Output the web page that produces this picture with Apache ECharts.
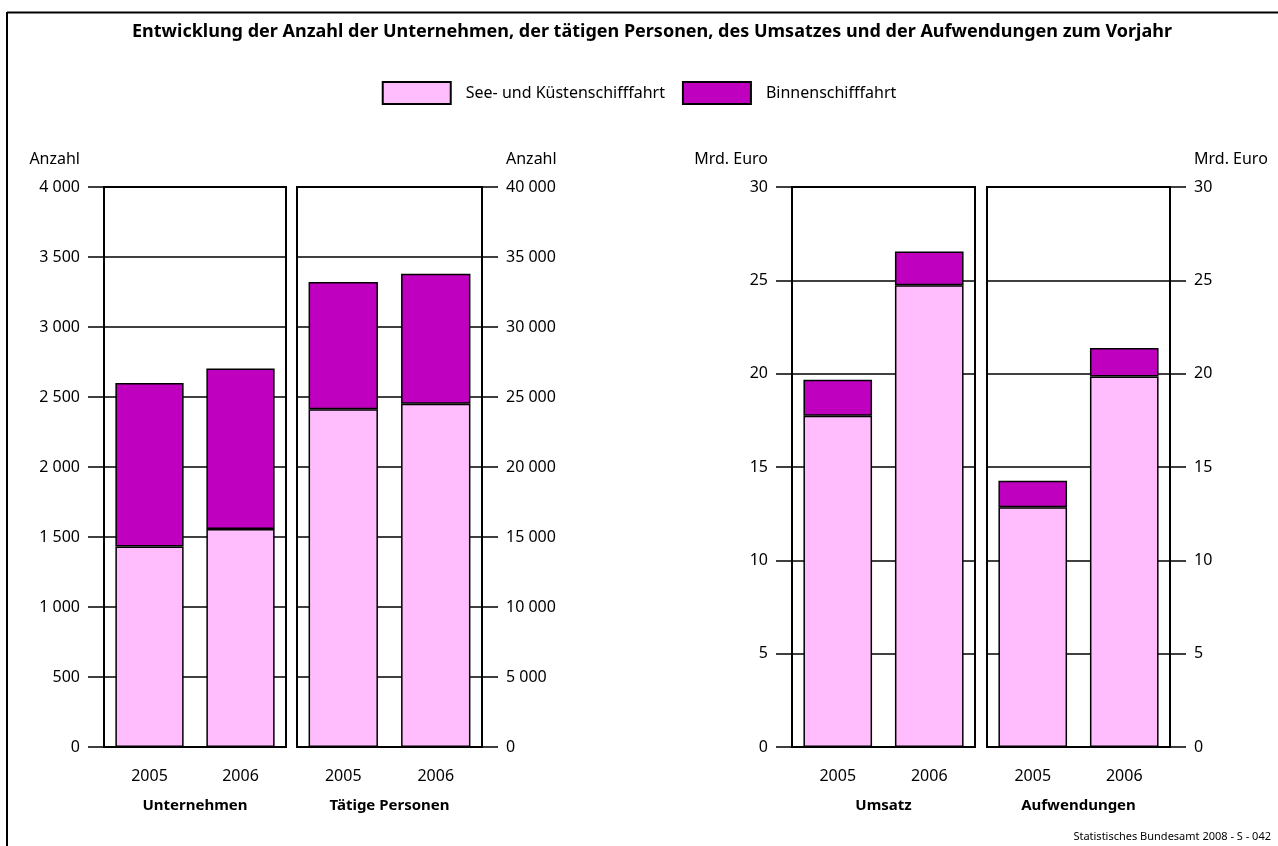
<!DOCTYPE html>
<html>
<head>
<meta charset="utf-8">
<script src="https://cdn.jsdelivr.net/npm/echarts@6/dist/echarts.min.js"></script>
<style>
  html, body { margin: 0; padding: 0; background: #fff; }
  #main { width: 1278px; height: 846px; }
</style>
</head>
<body>
<div id="main"></div>
<script>
// data
var years = ["2005", "2006"];
var panels = ["Unternehmen", "Tätige Personen", "Umsatz", "Aufwendungen"];
var seriesNames = ["See- und Küstenschifffahrt", "Binnenschifffahrt"];

var seeUnternehmen = [1432, 1558];
var binnenUnternehmen = [1168, 1145];
var seePersonen = [24130, 24510];
var binnenPersonen = [9090, 9300];
var seeUmsatz = [17.75, 24.73];
var binnenUmsatz = [1.92, 1.82];
var seeAufwand = [12.85, 19.85];
var binnenAufwand = [1.41, 1.52];

var axisMax = [4000, 40000, 30, 30];
var axisStep = [500, 5000, 5, 5];
var axisUnit = ["Anzahl", "Anzahl", "Mrd. Euro", "Mrd. Euro"];

var chart = echarts.init(document.getElementById("main"));
var font = "Noto Sans";
var pink = "#ffbdfd";
var purple = "#bf00bf";

function fmt(v) {
  return String(v).replace(/\B(?=(\d{3})+(?!\d))/g, " ");
}

var gridPos = [
  { left: 104, width: 182 },
  { left: 297, width: 185 },
  { left: 792, width: 183 },
  { left: 987, width: 183 },
];
var sideOf = ["left", "right", "left", "right"];

var grids = [], xAxes = [], yAxes = [], series = [];
var seeData = [seeUnternehmen, seePersonen, seeUmsatz, seeAufwand];
var binnenData = [binnenUnternehmen, binnenPersonen, binnenUmsatz, binnenAufwand];

for (var i = 0; i < 4; i++) {
  grids.push({
    left: gridPos[i].left,
    width: gridPos[i].width,
    top: 187,
    height: 560,
    show: true,
    borderColor: "#000",
    borderWidth: 2,
  });
  xAxes.push({
    type: "category",
    gridIndex: i,
    data: years,
    name: panels[i],
    nameLocation: "middle",
    nameGap: 51,
    nameTextStyle: { fontFamily: font, fontWeight: "bold", fontSize: 15, color: "#000" },
    axisLine: { lineStyle: { color: "#000", width: 2 } },
    axisTick: { length: 16, lineStyle: { color: "#000", width: 2 } },
    axisLabel: { margin: 21, fontFamily: font, fontSize: 16, color: "#000" },
  });
  var isLeft = sideOf[i] === "left";
  yAxes.push({
    type: "value",
    gridIndex: i,
    position: sideOf[i],
    min: 0,
    max: axisMax[i],
    interval: axisStep[i],
    name: axisUnit[i],
    nameLocation: "end",
    nameGap: 20,
    nameTextStyle: {
      fontFamily: font,
      fontSize: 16,
      color: "#000",
      align: isLeft ? "right" : "left",
      padding: isLeft ? [0, 24, 0, 0] : [0, 0, 0, 24],
    },
    axisLine: { show: true, lineStyle: { color: "#000", width: 2 } },
    axisTick: { show: true, length: 16, lineStyle: { color: "#000", width: 1.5 } },
    axisLabel: { margin: 24, fontFamily: font, fontSize: 16, color: "#000", formatter: fmt },
    splitLine: { show: true, lineStyle: { color: "#000", width: 1.5 } },
  });
  series.push({
    name: seriesNames[0],
    type: "bar",
    xAxisIndex: i,
    yAxisIndex: i,
    stack: "s" + i,
    barWidth: "75%",
    itemStyle: { color: pink, borderColor: "#000", borderWidth: 1.5 },
    data: seeData[i],
  });
  series.push({
    name: seriesNames[1],
    type: "bar",
    xAxisIndex: i,
    yAxisIndex: i,
    stack: "s" + i,
    barWidth: "75%",
    itemStyle: { color: purple, borderColor: "#000", borderWidth: 1.5 },
    data: binnenData[i],
  });
}

chart.setOption({
  backgroundColor: "#fff",
  animation: false,
  title: {
    text: "Entwicklung der Anzahl der Unternehmen, der tätigen Personen, des Umsatzes und der Aufwendungen zum Vorjahr",
    left: 127,
    top: 18,
    textStyle: { fontFamily: font, fontWeight: "bold", fontSize: 18, color: "#000" },
  },
  legend: {
    top: 76,
    left: "center",
    itemWidth: 68,
    itemHeight: 22,
    itemGap: 17,
    icon: "rect",
    textStyle: { fontFamily: font, fontSize: 16, color: "#000", padding: [0, 0, 0, 10] },
    data: seriesNames,
  },
  grid: grids,
  xAxis: xAxes,
  yAxis: yAxes,
  series: series,
  graphic: [
    { type: "line", shape: { x1: 7, y1: 12.5, x2: 1278, y2: 12.5 }, style: { stroke: "#000", lineWidth: 2 } },
    { type: "line", shape: { x1: 7, y1: 12, x2: 7, y2: 846 }, style: { stroke: "#000", lineWidth: 2 } },
    {
      type: "text",
      right: 7,
      top: 831,
      style: { text: "Statistisches Bundesamt 2008 - S - 042", font: "11px 'Noto Sans'", fill: "#000" },
    },
  ],
});
</script>
</body>
</html>
